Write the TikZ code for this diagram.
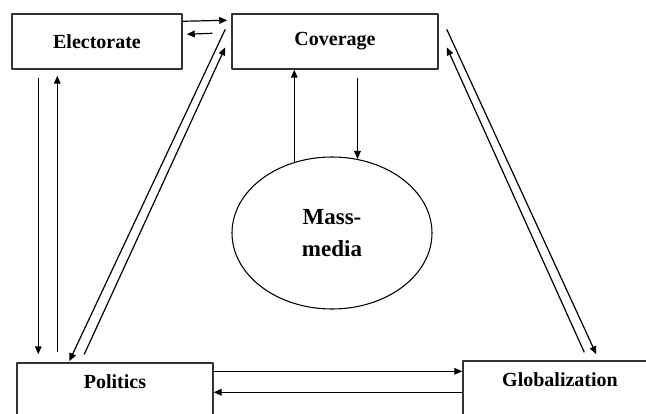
\documentclass[tikz,border=0pt]{standalone}
\usepackage{fontspec}
\setmainfont{Liberation Serif}
\usetikzlibrary{arrows.meta,calc,shapes.geometric}
\tikzset{
	box/.style={draw=black!80, line width=1.1pt, inner sep=0pt},
	word/.style={font=\bfseries\fontsize{15}{18}\selectfont},
}
\begin{document}
\begin{tikzpicture}[x=0.75pt, y=-0.75pt, line join=round, >={Triangle[length=6pt,width=5pt]}]
			\def\u{0.75pt} % 1 px
			\useasboundingbox (0,0) rectangle (646,414);
			% boxes
			\node[box, word, minimum width=170*\u, minimum height=55*\u] (elect) at (97,41.5) {Electorate};
			\node[box, word, minimum width=206*\u, minimum height=55*\u] (cov) at (335,41.5) {Coverage};
			\node[box, minimum width=196*\u, minimum height=60*\u] (pol) at (115,393) {};
			\node[word] (poltext) at (115,382) {Politics};
			\node[box, minimum width=194*\u, minimum height=60*\u] (glob) at (560,391) {};
			\node[word] (globtext) at (560,380) {Globalization};
			\node[draw, ellipse, line width=0.8pt, inner sep=0pt, minimum width=200*\u, minimum height=152*\u,
				align=center, font=\bfseries\fontsize{17.25}{24}\selectfont] (mm) at (332,233) {Mass-\\media};
			% arrows
			\begin{scope}[line width=0.9pt]
			\draw[->] ($(elect.north east)+(0,8)$) -- ($(cov.north west)+(-4,7)$);
			\draw[->] ($(cov.north west)+(-19,20)$) -- ($(elect.north east)+(4,21)$);
			\draw[->] ($(elect.south west)+(27,8)$) -- ($(pol.north west)+(22,-8)$);
			\draw[->] ($(pol.north west)+(41,-10)$) -- ($(elect.south west)+(46,6)$);
			\draw[->] ($(cov.north west)+(-6,16)$) -- ($(pol.north west)+(53,-1)$);
			\draw[->] ($(pol.north west)+(68,-8)$) -- ($(cov.north west)+(-6,34)$);
			\draw[->] ($(cov.north east)+(8,16)$) -- ($(glob.north west)+(134,-6)$);
			\draw[->] ($(glob.north west)+(122,-8)$) -- ($(cov.north east)+(8,34)$);
			\draw[->] ($(pol.north east)+(0,9)$) -- ($(glob.north west)+(0,11)$);
			\draw[->] ($(glob.north west)+(0,32)$) -- ($(pol.north east)+(0,30)$);
			\draw[->] (mm.118) -- (mm.118 |- cov.south);
			\draw[->] ($(mm.71 |- cov.south)+(0,8)$) -- (mm.71);
			\end{scope}
\end{tikzpicture}
\end{document}
